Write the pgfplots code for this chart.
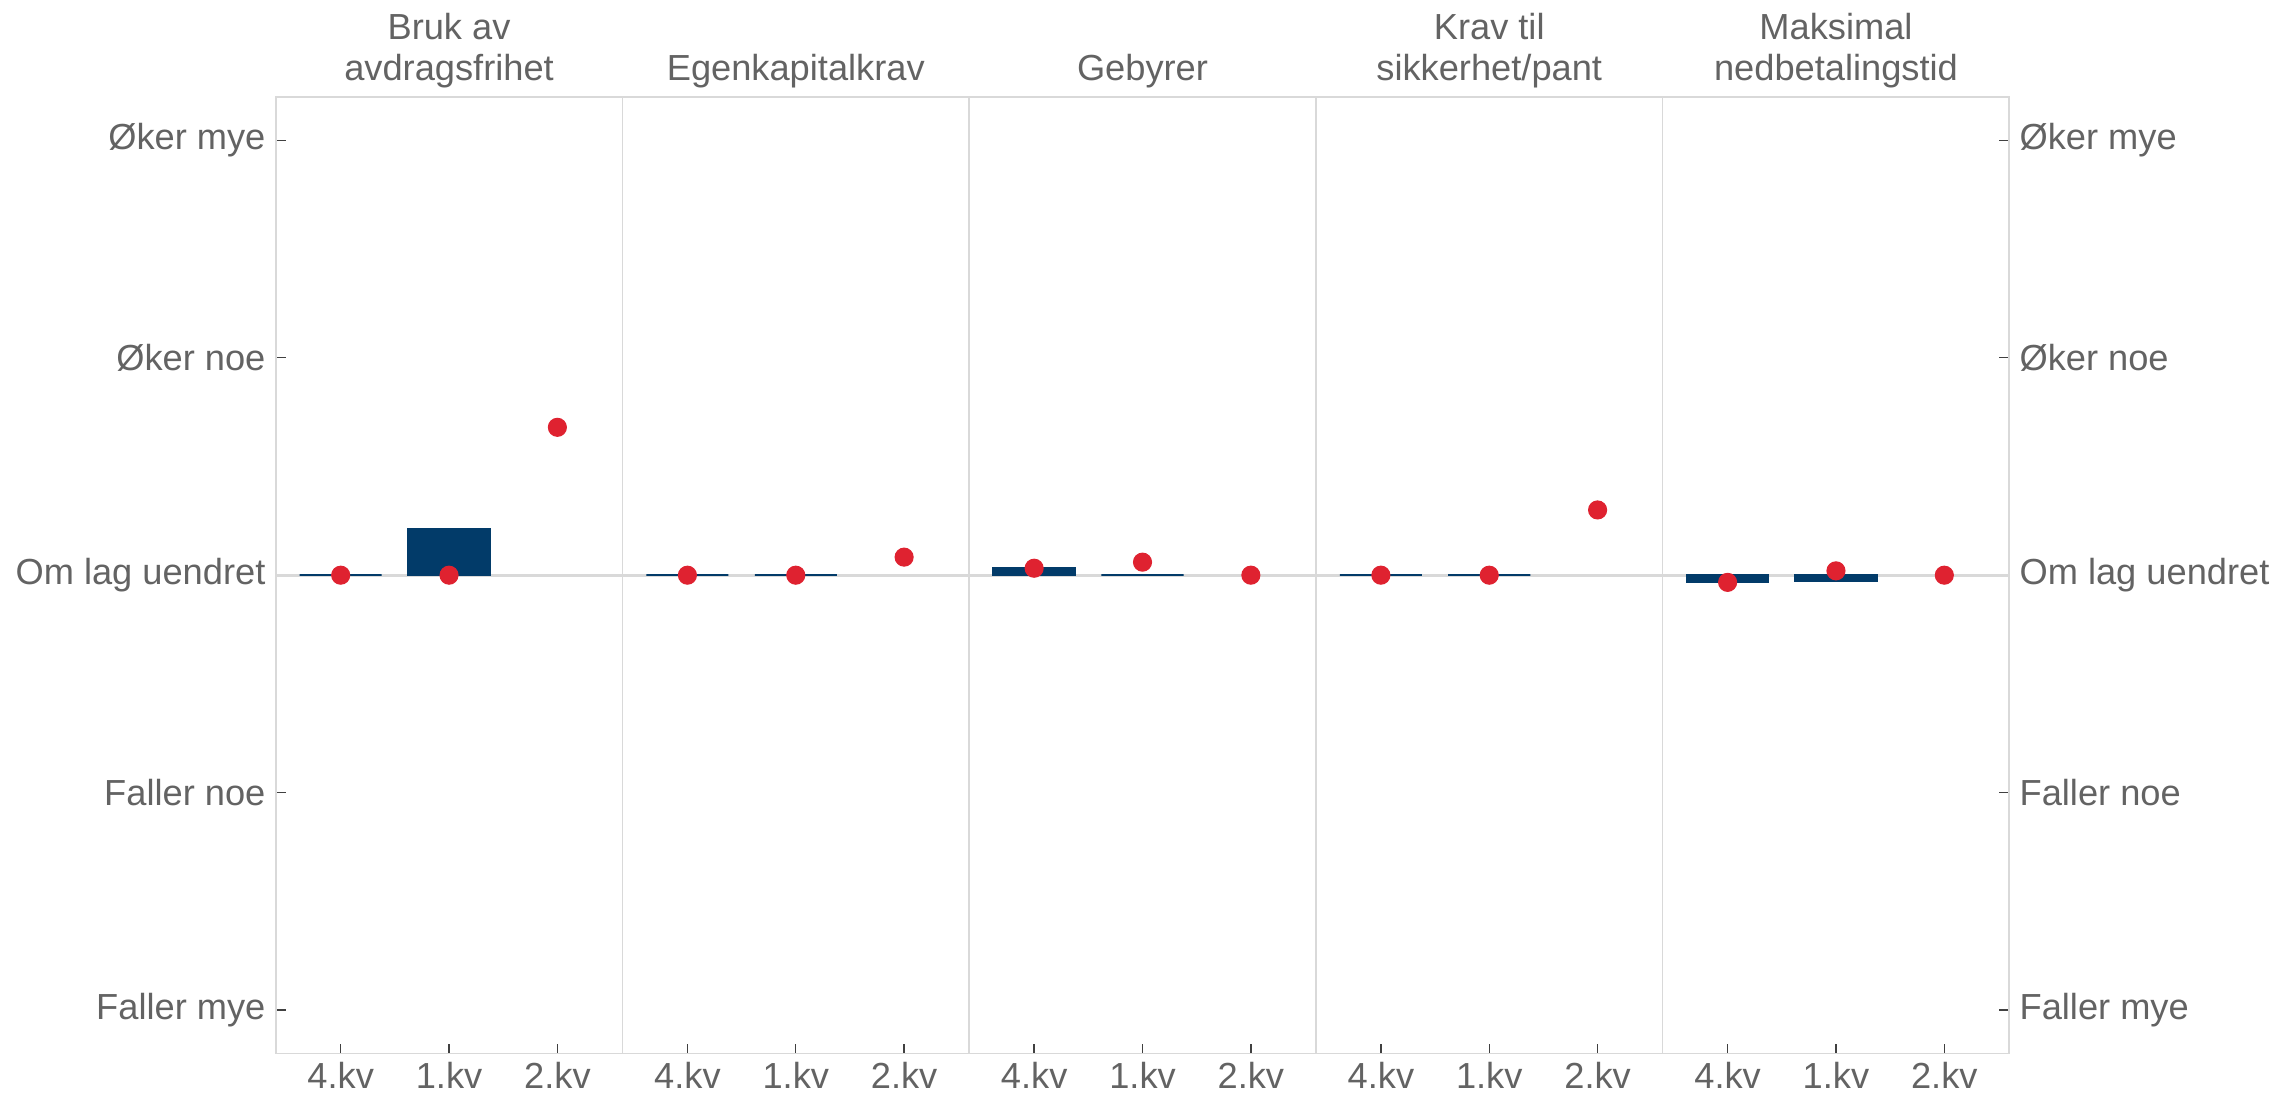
\documentclass[border=0pt]{standalone}
\usepackage{fontspec}
\setmainfont{Liberation Sans}
\usepackage{pgfplots}
\pgfplotsset{compat=1.18}
\definecolor{barblue}{HTML}{023B69}
\definecolor{dotred}{HTML}{DF2230}
\definecolor{framegray}{HTML}{D9D9D9}
\definecolor{txtgray}{HTML}{636363}

\pgfplotsset{
  every axis title/.style={font=\fontsize{12.7}{14.4}\selectfont, text=txtgray, align=center,
    at={(0.5,1)}, anchor=south, inner sep=0pt, yshift=3pt},
  panel/.style={
    scale only axis, width=121.5pt, height=335.3pt,
    anchor=south west,
    xmin=0.4, xmax=3.6, ymin=-2.2, ymax=2.2,
    xtick={1,2,3}, xticklabels={4.kv,1.kv,2.kv}, xtick pos=left,
    ytick=\empty,
    axis line style={framegray, line width=0.6pt},
    tick style={black!75, line width=0.5pt},
    tick align=inside, major tick length=3.5pt,
    every tick label/.append style={font=\fontsize{12.7}{15}\selectfont, text=txtgray, inner sep=0pt},
    xticklabel shift=2.9pt, yticklabel shift=3.4pt,
    extra y ticks={0}, extra y tick labels={},
    extra y tick style={grid=major, major grid style={framegray, line width=1pt}, major tick length=0pt},
  },
  ylabs/.style={ytick={-2,-1,0,1,2},
    yticklabels={Faller mye,Faller noe,Om lag uendret,Øker noe,Øker mye}},
  bars/.style={ybar, bar width=0.757, fill=barblue, draw=barblue, line width=0.6pt},
  dots/.style={only marks, mark=*, mark size=3.15pt, color=dotred},
}

\begin{document}
\begin{tikzpicture}
\useasboundingbox (-96.6pt,-14.8pt) rectangle ++(800pt,384pt);

% Bruk av avdragsfrihet
\begin{axis}[panel, ylabs, ytick pos=left, at={(0pt,0pt)}, title={Bruk av\\avdragsfrihet}]
  \addplot[bars] coordinates {(1,0) (2,0.214)};
  \addplot[dots] coordinates {(1,0) (2,0) (3,0.68)};
\end{axis}

% Egenkapitalkrav
\begin{axis}[panel, at={(121.5pt,0pt)}, title={Egenkapitalkrav}]
  \addplot[bars] coordinates {(1,0) (2,0)};
  \addplot[dots] coordinates {(1,0) (2,0) (3,0.083)};
\end{axis}

% Gebyrer
\begin{axis}[panel, at={(243pt,0pt)}, title={Gebyrer}]
  \addplot[bars] coordinates {(1,0.033) (2,0)};
  \addplot[dots] coordinates {(1,0.032) (2,0.06) (3,0)};
\end{axis}

% Krav til sikkerhet/pant
\begin{axis}[panel, at={(364.5pt,0pt)}, title={Krav til\\sikkerhet/pant}]
  \addplot[bars] coordinates {(1,0) (2,0)};
  \addplot[dots] coordinates {(1,0) (2,0) (3,0.30)};
\end{axis}

% Maksimal nedbetalingstid
\begin{axis}[panel, ylabs, ytick pos=right, yticklabel pos=right, at={(486pt,0pt)}, title={Maksimal\\nedbetalingstid}]
  \addplot[bars] coordinates {(1,-0.032) (2,-0.026)};
  \addplot[dots] coordinates {(1,-0.033) (2,0.02) (3,0)};
\end{axis}
\end{tikzpicture}
\end{document}
